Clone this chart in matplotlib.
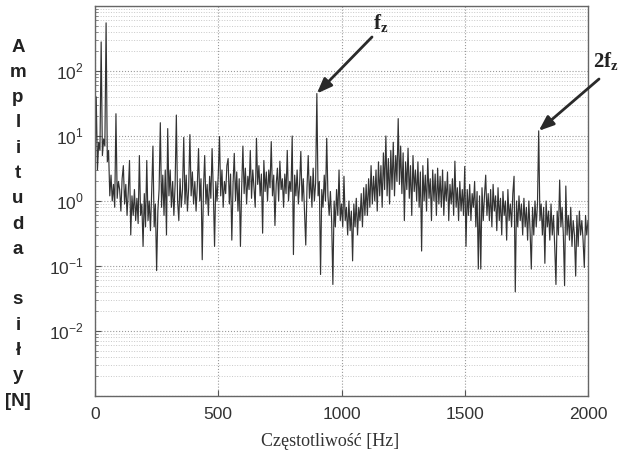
import numpy as np
import matplotlib
matplotlib.use("Agg")
import matplotlib.pyplot as plt
from matplotlib.ticker import LogLocator, NullFormatter, FixedLocator

# ---------------- data ----------------
freq_step_hz = 5
amplitude_n = [
    # 0-95 Hz
    2.5, 40, 3, 8, 6, 280, 5, 9, 7, 550, 4, 6, 1.2, 2.5, 1.0, 1.8, 0.8, 22, 1.1, 2.0,
    # 100-195
    1.5, 0.7, 2.2, 3.5, 0.9, 1.8, 0.6, 1.4, 4.2, 0.3, 1.2, 0.6, 1.5, 0.5, 1.1, 0.45, 5.0, 0.6, 0.9, 0.2,
    # 200-295
    1.3, 0.4, 4.2, 0.5, 1.0, 0.35, 1.4, 7.0, 0.4, 0.9, 0.085, 0.7, 1.5, 16, 0.8, 2.5, 0.6, 3.0, 0.3, 13,
    # 300-395
    1.2, 3.0, 0.8, 2.0, 0.6, 1.8, 21, 1.0, 0.5, 2.2, 0.8, 1.5, 9.5, 0.9, 2.5, 0.7, 1.6, 10.5, 1.2, 2.8,
    # 400-495
    0.9, 2.0, 0.7, 1.7, 6.4, 1.0, 2.2, 0.125, 1.5, 5.0, 0.9, 1.8, 0.6, 2.4, 1.1, 6.4, 1.4, 0.2, 2.0, 1.0,
    # 500-595
    2.5, 9.8, 1.2, 3.0, 0.8, 2.0, 1.3, 3.5, 4.5, 0.9, 2.6, 0.25, 1.8, 5.4, 1.0, 2.8, 0.7, 2.2, 0.2, 1.6,
    # 600-695
    7.0, 1.3, 3.2, 0.9, 2.4, 1.5, 6.0, 1.1, 3.0, 1.6, 0.8, 9.2, 1.8, 3.5, 1.2, 2.6, 0.32, 4.2, 1.4, 2.8,
    # 700-795
    1.0, 3.0, 1.6, 8.2, 1.2, 2.5, 0.42, 1.8, 3.2, 1.0, 4.1, 1.5, 2.2, 0.8, 2.6, 1.3, 6.0, 1.0, 2.0, 1.4,
    # 800-895
    10, 0.15, 2.5, 1.2, 3.0, 0.9, 1.8, 5.8, 1.0, 2.2, 0.7, 0.21, 1.6, 5.0, 1.1, 2.4, 0.8, 3.2, 1.0, 1.9,
    # 900-995
    45, 1.2, 2.0, 0.074, 1.5, 0.8, 2.5, 1.0, 9.2, 1.2, 0.6, 1.4, 0.5, 0.052, 1.0, 0.4, 1.5, 0.6, 3.0, 0.5,
    # 1000-1095
    0.9, 0.4, 2.4, 0.5, 0.8, 0.3, 1.0, 0.35, 0.7, 0.12, 0.9, 0.4, 1.1, 0.3, 0.8, 0.5, 1.3, 0.4, 1.6, 0.6,
    # 1100-1195
    1.8, 0.6, 2.2, 0.8, 3.5, 0.9, 2.4, 1.0, 3.0, 0.7, 4.0, 1.2, 3.5, 0.8, 5.5, 1.5, 10, 1.2, 4.5, 0.9,
    # 1200-1295
    6.0, 1.5, 8.0, 1.2, 5.0, 2.0, 18.5, 1.8, 7.0, 1.3, 5.5, 0.5, 4.0, 1.5, 6.5, 1.1, 3.5, 0.6, 5.0, 1.4,
    # 1300-1395
    3.0, 1.0, 4.0, 0.8, 2.8, 0.17, 3.5, 1.0, 2.5, 0.7, 4.5, 1.1, 2.2, 0.5, 3.0, 1.0, 2.6, 0.6, 3.2, 0.9,
    # 1400-1495
    2.4, 0.8, 3.0, 0.6, 2.0, 1.0, 2.8, 0.5, 1.8, 0.9, 2.2, 0.6, 4.1, 0.8, 1.6, 0.5, 2.0, 0.7, 1.5, 0.6,
    # 1500-1595
    3.4, 0.2, 1.5, 0.6, 1.8, 0.5, 1.3, 0.8, 2.0, 0.4, 1.4, 0.09, 1.2, 0.09, 1.6, 0.5, 1.2, 2.5, 0.6, 1.3,
    # 1600-1695
    0.5, 1.5, 0.4, 1.8, 0.7, 1.2, 0.35, 1.6, 0.5, 1.1, 0.3, 1.4, 0.6, 1.0, 0.25, 1.5, 0.5, 0.9, 0.4, 1.3,
    # 1700-1795
    2.4, 0.04, 1.0, 0.4, 1.2, 0.5, 0.9, 0.3, 1.1, 0.4, 0.8, 0.25, 1.0, 0.35, 0.09, 0.8, 0.3, 1.0, 0.4, 0.9,
    # 1800-1895
    12, 0.5, 0.9, 0.3, 0.8, 0.11, 1.0, 0.4, 0.7, 0.25, 0.9, 0.3, 0.6, 0.2, 0.052, 0.7, 0.3, 2.1, 0.4, 0.8,
    # 1900-1995
    0.3, 0.05, 1.7, 0.3, 0.6, 0.25, 0.8, 0.2, 0.5, 0.3, 0.07, 0.6, 0.2, 0.7, 0.3, 0.5, 0.25, 0.095, 0.6, 0.3,
    # 2000
    0.5,
]
freq_hz = np.arange(len(amplitude_n)) * freq_step_hz

x_ticks = [0, 500, 1000, 1500, 2000]
y_ticks = [1e-2, 1e-1, 1e0, 1e1, 1e2]
ylabel_letters = ["A", "m", "p", "l", "i", "t", "u", "d", "a", "", "s", "i", "ł", "y", "[N]"]
xlabel_text = "Częstotliwość [Hz]"
peak_labels = [r"$\mathbf{f}_{\mathbf{z}}$", r"$\mathbf{2f}_{\mathbf{z}}$"]
peak_freqs = [900, 1800]
peak_amps = [45, 12]

# ---------------- styling ----------------
plt.rcParams["font.family"] = ["Liberation Sans", "DejaVu Sans"]
plt.rcParams["mathtext.fontset"] = "custom"
plt.rcParams["mathtext.rm"] = "Liberation Sans"
plt.rcParams["mathtext.bf"] = "Liberation Serif:bold"

W, H = 628, 457
fig = plt.figure(figsize=(W / 100, H / 100), dpi=100)
ax_left, ax_right, ax_top, ax_bottom = 95, 588, 6, 396
ax = fig.add_axes([ax_left / W, 1 - ax_bottom / H, (ax_right - ax_left) / W, (ax_bottom - ax_top) / H])

ax.plot(freq_hz, amplitude_n, color="#333333", lw=0.85)
ax.set_yscale("log")
ax.set_xlim(0, 2000)
ax.set_ylim(1e-3, 1e3)

ax.xaxis.set_major_locator(FixedLocator(x_ticks))
ax.yaxis.set_major_locator(FixedLocator(y_ticks))
ax.yaxis.set_minor_locator(LogLocator(base=10, subs=np.arange(2, 10), numticks=20))
ax.yaxis.set_minor_formatter(NullFormatter())
ax.set_xticklabels([str(t) for t in x_ticks])
ax.set_yticklabels([r"$10^{%d}$" % int(np.log10(v)) for v in y_ticks])

ax.tick_params(axis="both", which="major", direction="in", length=4, labelsize=12.5,
               labelcolor="#333333", color="#555555", pad=8)
ax.tick_params(axis="y", which="minor", direction="in", length=2, color="#777777")

# grid
ax.grid(True, which="major", axis="both", linestyle=":", color="#9a9a9a", lw=0.8)
ax.grid(True, which="minor", axis="y", linestyle=":", color="#c8c8c8", lw=0.7)
for ly in [1e-3, 1e3]:
    ax.axhline(ly, color="#9a9a9a", ls=":", lw=0.8)

for s in ax.spines.values():
    s.set_color("#666666")
    s.set_linewidth(1.0)

# y label as stacked letters
y_start, y_step = 47, 25.3
for i, ch in enumerate(ylabel_letters):
    if ch:
        fig.text(18 / W, 1 - (y_start + i * y_step) / H, ch, ha="center", va="center",
                 fontsize=13.5, fontweight="bold", color="#222222")

fig.text(330 / W, 1 - 441 / H, xlabel_text, ha="center", va="center",
         fontsize=13, family=["Liberation Serif", "DejaVu Serif"], color="#333333")

# annotations
def px_to_data(px, py):
    xd = (px - ax_left) / (ax_right - ax_left) * 2000
    yd = 10 ** (3 - (py - ax_top) / (ax_bottom - ax_top) * 6)
    return xd, yd

tails = [(372, 37), (599, 79)]
label_pos = [(381, 24), (606, 62)]
for lab, f, a, tail, lp in zip(peak_labels, peak_freqs, peak_amps, tails, label_pos):
    ax.annotate("", xy=(f, a), xytext=px_to_data(*tail),
                arrowprops=dict(arrowstyle="-|>,head_length=0.9,head_width=0.35",
                                color="#2a2a2a", lw=2.0, shrinkA=0, shrinkB=0),
                annotation_clip=False)
    tx, ty = px_to_data(*lp)
    ax.text(tx, ty, lab, ha="center", va="center", fontsize=15, color="#222222", clip_on=False)

fig.savefig("out.png", dpi=100)
